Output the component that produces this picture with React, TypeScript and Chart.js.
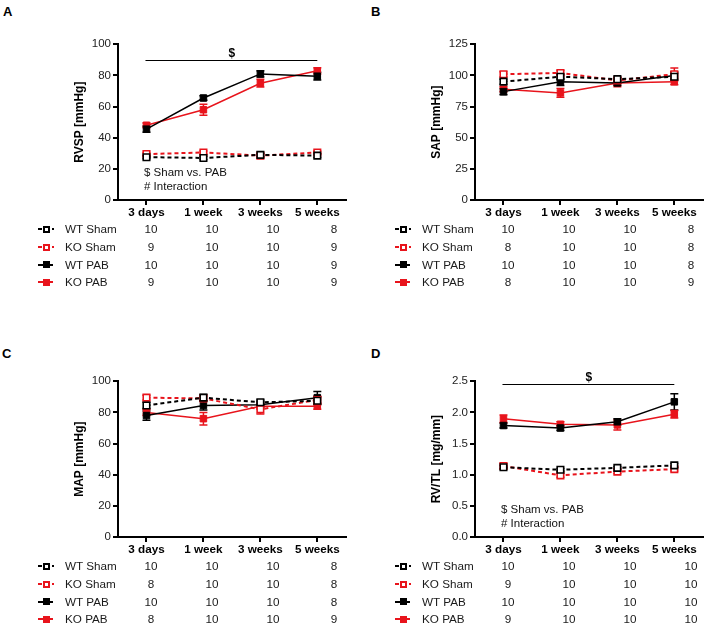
import React, { useEffect, useRef } from 'react';
import { Chart, registerables } from 'chart.js';

Chart.register(...registerables);

// ---------- data ----------
const TIMEPOINTS = ['3 days', '1 week', '3 weeks', '5 weeks'];
const GROUPS = ['WT Sham', 'KO Sham', 'WT PAB', 'KO PAB'];

// Panel A: RVSP [mmHg]
const RVSP_WT_SHAM = [27.5, 27, 29, 28.5];
const RVSP_KO_SHAM = [29.5, 30.5, 28.5, 30.5];
const RVSP_WT_PAB = [45.5, 65.5, 81, 79.5];
const RVSP_KO_PAB = [48, 58, 75, 83];
const RVSP_WT_SHAM_SEM = [1, 1, 1, 1.2];
const RVSP_KO_SHAM_SEM = [1, 1, 1, 1];
const RVSP_WT_PAB_SEM = [2, 1.5, 2, 2.5];
const RVSP_KO_PAB_SEM = [1.5, 3.5, 2.5, 2];
const RVSP_N_WT_SHAM = [10, 10, 10, 8];
const RVSP_N_KO_SHAM = [9, 10, 10, 9];
const RVSP_N_WT_PAB = [10, 10, 10, 9];
const RVSP_N_KO_PAB = [9, 10, 10, 9];

// Panel B: SAP [mmHg]
const SAP_WT_SHAM = [95, 99, 97, 99];
const SAP_KO_SHAM = [101, 102, 96, 101];
const SAP_WT_PAB = [87, 95, 94, 100];
const SAP_KO_PAB = [89, 86, 94, 95];
const SAP_WT_SHAM_SEM = [2, 2, 1.5, 3];
const SAP_KO_SHAM_SEM = [2, 2, 2, 5];
const SAP_WT_PAB_SEM = [2.5, 3, 2, 3];
const SAP_KO_PAB_SEM = [2, 3.5, 3, 2.5];
const SAP_N_WT_SHAM = [10, 10, 10, 8];
const SAP_N_KO_SHAM = [8, 10, 10, 8];
const SAP_N_WT_PAB = [10, 10, 10, 8];
const SAP_N_KO_PAB = [8, 10, 10, 9];

// Panel C: MAP [mmHg]
const MAP_WT_SHAM = [84.5, 89.5, 86.5, 87.5];
const MAP_KO_SHAM = [89.5, 89, 82, 88];
const MAP_WT_PAB = [78, 84.5, 85, 89.5];
const MAP_KO_PAB = [80, 76, 84, 84];
const MAP_WT_SHAM_SEM = [2, 2, 1.5, 2.5];
const MAP_KO_SHAM_SEM = [1.5, 1.5, 3, 2.5];
const MAP_WT_PAB_SEM = [3, 3, 2, 4];
const MAP_KO_PAB_SEM = [2, 4, 2, 2];
const MAP_N_WT_SHAM = [10, 10, 10, 8];
const MAP_N_KO_SHAM = [8, 10, 10, 8];
const MAP_N_WT_PAB = [10, 10, 10, 8];
const MAP_N_KO_PAB = [8, 10, 10, 9];

// Panel D: RV/TL [mg/mm]
const RVTL_WT_SHAM = [1.12, 1.08, 1.11, 1.15];
const RVTL_KO_SHAM = [1.14, 0.99, 1.05, 1.09];
const RVTL_WT_PAB = [1.79, 1.75, 1.85, 2.17];
const RVTL_KO_PAB = [1.9, 1.81, 1.8, 1.97];
const RVTL_WT_SHAM_SEM = [0.03, 0.02, 0.02, 0.03];
const RVTL_KO_SHAM_SEM = [0.04, 0.03, 0.03, 0.03];
const RVTL_WT_PAB_SEM = [0.04, 0.04, 0.05, 0.13];
const RVTL_KO_PAB_SEM = [0.06, 0.04, 0.08, 0.06];
const RVTL_N_WT_SHAM = [10, 10, 10, 10];
const RVTL_N_KO_SHAM = [9, 10, 10, 10];
const RVTL_N_WT_PAB = [10, 10, 10, 10];
const RVTL_N_KO_PAB = [9, 10, 10, 10];

// ---------- styling ----------
const RED = '#e8141c';
const BLACK = '#000000';
const FONT = "'Liberation Sans', Arial, Helvetica, sans-serif";
const GROUP_COLORS = [BLACK, RED, BLACK, RED];
const GROUP_SHAM = [true, true, false, false];

Chart.defaults.font.family = FONT;

const errorBarPlugin = {
  id: 'errorBars',
  beforeDatasetsDraw(chart: any) {
    const { ctx, scales } = chart;
    const x = scales.x;
    const y = scales.y;
    chart.data.datasets.forEach((ds: any) => {
      const errs: number[] = ds.errors;
      if (!errs) return;
      ctx.save();
      ctx.strokeStyle = ds.borderColor;
      ctx.lineWidth = 1.5;
      ctx.setLineDash([]);
      ds.data.forEach((pt: any, j: number) => {
        const px = x.getPixelForValue(pt.x);
        const hi = y.getPixelForValue(pt.y + errs[j]);
        const lo = y.getPixelForValue(pt.y - errs[j]);
        ctx.beginPath();
        ctx.moveTo(px, hi);
        ctx.lineTo(px, lo);
        ctx.moveTo(px - 4, hi);
        ctx.lineTo(px + 4, hi);
        ctx.moveTo(px - 4, lo);
        ctx.lineTo(px + 4, lo);
        ctx.stroke();
      });
      ctx.restore();
    });
  },
};

const annotPlugin = {
  id: 'annot',
  afterDatasetsDraw(chart: any, _args: any, opts: any) {
    if (!opts) return;
    const { ctx, chartArea, scales } = chart;
    const x = scales.x;
    const y = scales.y;
    ctx.save();
    if (opts.sigY != null) {
      const ly = Math.round(y.getPixelForValue(opts.sigY)) + 0.5;
      ctx.strokeStyle = '#000';
      ctx.lineWidth = 1;
      ctx.beginPath();
      ctx.moveTo(x.getPixelForValue(0) - 1, ly);
      ctx.lineTo(x.getPixelForValue(3), ly);
      ctx.stroke();
      ctx.fillStyle = '#000';
      ctx.font = `bold 12px ${FONT}`;
      ctx.textAlign = 'center';
      ctx.textBaseline = 'bottom';
      ctx.fillText(opts.sigLabel, x.getPixelForValue(1.5), ly - 0.5);
    }
    if (opts.notes) {
      ctx.fillStyle = '#111';
      ctx.font = `11.5px ${FONT}`;
      ctx.textAlign = 'left';
      ctx.textBaseline = 'middle';
      opts.notes.forEach((t: string, i: number) => {
        ctx.fillText(t, chartArea.left + 26, chartArea.bottom - 27 + i * 14);
      });
    }
    ctx.restore();
  },
};

type PanelProps = {
  ox: number;
  oy: number;
  letter: string;
  letterX: number;
  letterY: number;
  title: string;
  yMax: number;
  yStep: number;
  decimals: number;
  values: number[][];
  errors: number[][];
  counts: number[][];
  sigY?: number;
  notes?: string[];
};

function LegendSymbol({ x, y, color, sham }: { x: number; y: number; color: string; sham: boolean }) {
  const base: React.CSSProperties = { position: 'absolute', boxSizing: 'border-box' };
  if (sham) {
    return (
      <>
        <div style={{ ...base, left: x, top: y - 1, width: 4, height: 2, background: color }} />
        <div style={{ ...base, left: x + 5, top: y - 3.5, width: 7, height: 7, border: `2px solid ${color}`, background: '#fff' }} />
        <div style={{ ...base, left: x + 13.5, top: y - 1, width: 2, height: 2, background: color }} />
      </>
    );
  }
  return (
    <>
      <div style={{ ...base, left: x, top: y - 1, width: 15, height: 2, background: color }} />
      <div style={{ ...base, left: x + 4.5, top: y - 3.5, width: 7, height: 7, background: color }} />
    </>
  );
}

const COL_X = [151, 212, 273, 334];

function Panel(p: PanelProps) {
  const ref = useRef<HTMLCanvasElement>(null);
  useEffect(() => {
    const datasets = GROUPS.map((g, gi) => ({
      label: g,
      data: p.values[gi].map((v, i) => ({ x: i, y: v })),
      errors: p.errors[gi],
      borderColor: GROUP_COLORS[gi],
      backgroundColor: GROUP_SHAM[gi] ? '#fff' : GROUP_COLORS[gi],
      pointBackgroundColor: GROUP_SHAM[gi] ? '#fff' : GROUP_COLORS[gi],
      pointBorderColor: GROUP_COLORS[gi],
      borderWidth: GROUP_SHAM[gi] ? 2 : 1.5,
      borderDash: GROUP_SHAM[gi] ? [4, 3] : [],
      pointStyle: 'rect',
      pointRadius: 4.6,
      pointBorderWidth: GROUP_SHAM[gi] ? 1.6 : 1,
      fill: false,
      tension: 0,
    }));
    const axisGrid = {
      display: true,
      drawOnChartArea: false,
      drawTicks: true,
      tickLength: 5,
      lineWidth: 2,
      color: '#000',
    };
    const chart = new Chart(ref.current as HTMLCanvasElement, {
      type: 'line',
      data: { datasets: datasets as any },
      plugins: [errorBarPlugin, annotPlugin],
      options: {
        animation: false,
        responsive: false,
        devicePixelRatio: 1,
        layout: { padding: { left: 0, right: 2, top: 14.3, bottom: 0 } },
        plugins: {
          legend: { display: false },
          tooltip: { enabled: false },
          annot: { sigY: p.sigY, sigLabel: '$', notes: p.notes },
        } as any,
        scales: {
          x: {
            type: 'linear',
            min: -0.5,
            max: 3.5,
            offset: false,
            afterBuildTicks: (s: any) => {
              s.ticks = TIMEPOINTS.map((_, i) => ({ value: i }));
            },
            afterFit: (s: any) => {
              s.height = 24;
            },
            ticks: {
              callback: (v: any) => TIMEPOINTS[Math.round(Number(v))],
              font: { size: 11.7, weight: 'bold' },
              color: '#000',
              padding: 1,
              maxRotation: 0,
              autoSkip: false,
            },
            grid: axisGrid,
            border: { display: true, width: 2, color: '#000' },
          } as any,
          y: {
            type: 'linear',
            min: 0,
            max: p.yMax,
            afterFit: (s: any) => {
              s.width = 118;
            },
            ticks: {
              stepSize: p.yStep,
              callback: (v: any) => Number(v).toFixed(p.decimals),
              font: { size: 11.5 },
              color: '#222',
              padding: 2,
            },
            title: {
              display: true,
              text: p.title,
              font: { size: 12, weight: 'bold' },
              color: '#000',
              padding: { top: 72, bottom: 0 },
            },
            grid: axisGrid,
            border: { display: true, width: 2, color: '#000' },
          } as any,
        },
      },
    });
    return () => chart.destroy();
  }, []);

  const text: React.CSSProperties = {
    position: 'absolute',
    fontFamily: FONT,
    fontSize: 11.7,
    lineHeight: '14px',
    color: '#1a1a1a',
    whiteSpace: 'nowrap',
  };

  return (
    <div style={{ position: 'absolute', left: p.ox, top: p.oy, width: 352, height: 300 }}>
      <div
        style={{
          position: 'absolute',
          left: p.letterX,
          top: p.letterY,
          fontFamily: FONT,
          fontWeight: 'bold',
          fontSize: 13,
          lineHeight: '13px',
          color: '#000',
        }}
      >
        {p.letter}
      </div>
      <canvas ref={ref} width={352} height={194} style={{ position: 'absolute', left: 0, top: 30, width: 352, height: 194 }} />
      {GROUPS.map((g, gi) => {
        const ry = 229.3 + gi * 17.7;
        return (
          <React.Fragment key={g}>
            <LegendSymbol x={38} y={ry} color={GROUP_COLORS[gi]} sham={GROUP_SHAM[gi]} />
            <div style={{ ...text, left: 65, top: ry - 7 }}>{g}</div>
            {p.counts[gi].map((n, ci) => (
              <div key={ci} style={{ ...text, left: COL_X[ci] - 15, top: ry - 7, width: 30, textAlign: 'center' }}>
                {n}
              </div>
            ))}
          </React.Fragment>
        );
      })}
    </div>
  );
}

export default function App() {
  return (
    <div style={{ position: 'absolute', left: 0, top: 0, width: 709, height: 628, background: '#fff', overflow: 'hidden' }}>
      <Panel
        ox={0}
        oy={0}
        letter="A"
        letterX={3}
        letterY={5}
        title="RVSP [mmHg]"
        yMax={100}
        yStep={20}
        decimals={0}
        values={[RVSP_WT_SHAM, RVSP_KO_SHAM, RVSP_WT_PAB, RVSP_KO_PAB]}
        errors={[RVSP_WT_SHAM_SEM, RVSP_KO_SHAM_SEM, RVSP_WT_PAB_SEM, RVSP_KO_PAB_SEM]}
        counts={[RVSP_N_WT_SHAM, RVSP_N_KO_SHAM, RVSP_N_WT_PAB, RVSP_N_KO_PAB]}
        sigY={90}
        notes={['$ Sham vs. PAB', '# Interaction']}
      />
      <Panel
        ox={357}
        oy={0}
        letter="B"
        letterX={14}
        letterY={5}
        title="SAP [mmHg]"
        yMax={125}
        yStep={25}
        decimals={0}
        values={[SAP_WT_SHAM, SAP_KO_SHAM, SAP_WT_PAB, SAP_KO_PAB]}
        errors={[SAP_WT_SHAM_SEM, SAP_KO_SHAM_SEM, SAP_WT_PAB_SEM, SAP_KO_PAB_SEM]}
        counts={[SAP_N_WT_SHAM, SAP_N_KO_SHAM, SAP_N_WT_PAB, SAP_N_KO_PAB]}
      />
      <Panel
        ox={0}
        oy={337}
        letter="C"
        letterX={2}
        letterY={9.6}
        title="MAP [mmHg]"
        yMax={100}
        yStep={20}
        decimals={0}
        values={[MAP_WT_SHAM, MAP_KO_SHAM, MAP_WT_PAB, MAP_KO_PAB]}
        errors={[MAP_WT_SHAM_SEM, MAP_KO_SHAM_SEM, MAP_WT_PAB_SEM, MAP_KO_PAB_SEM]}
        counts={[MAP_N_WT_SHAM, MAP_N_KO_SHAM, MAP_N_WT_PAB, MAP_N_KO_PAB]}
      />
      <Panel
        ox={357}
        oy={337}
        letter="D"
        letterX={14}
        letterY={9.6}
        title="RV/TL [mg/mm]"
        yMax={2.5}
        yStep={0.5}
        decimals={1}
        values={[RVTL_WT_SHAM, RVTL_KO_SHAM, RVTL_WT_PAB, RVTL_KO_PAB]}
        errors={[RVTL_WT_SHAM_SEM, RVTL_KO_SHAM_SEM, RVTL_WT_PAB_SEM, RVTL_KO_PAB_SEM]}
        counts={[RVTL_N_WT_SHAM, RVTL_N_KO_SHAM, RVTL_N_WT_PAB, RVTL_N_KO_PAB]}
        sigY={2.45}
        notes={['$ Sham vs. PAB', '# Interaction']}
      />
    </div>
  );
}
